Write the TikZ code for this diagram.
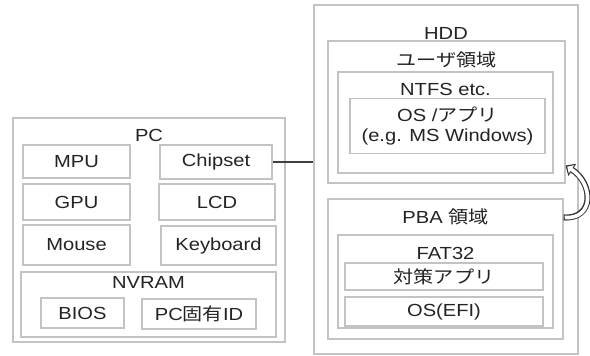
\documentclass[tikz,border=0pt]{standalone}
\usepackage{fontspec}
\setmainfont{Liberation Sans}[FakeStretch=1.15]
\newfontfamily\jp{Noto Sans CJK JP}[FakeStretch=1.15]
\usetikzlibrary{arrows.meta}
\definecolor{boxgray}{RGB}{195,195,195}
\definecolor{textgray}{RGB}{35,35,35}

\begin{document}
\begin{tikzpicture}[x=1pt,y=-1pt,font=\fontsize{17.5}{20}\selectfont,
  box node/.style={draw=boxgray,line width=1.1pt,inner sep=0pt,text=textgray},
  title node/.style={text=textgray,inner sep=0pt}]
  \useasboundingbox (0,0) rectangle (590,356);

  % PC and its parts
  \node[box node,minimum width=272pt,minimum height=224pt] (pc) at (149,230) {};
  \node[title node] (pc label) at (149,135) {PC};
  \node[box node,minimum width=107pt,minimum height=33pt] (mpu)      at (76.5,161.5) {MPU};
  \node[box node,minimum width=112pt,minimum height=34pt] (chipset)  at (216,162)    {Chipset};
  \node[box node,minimum width=107pt,minimum height=36pt] (gpu)      at (76.5,202)   {GPU};
  \node[box node,minimum width=116pt,minimum height=36pt] (lcd)      at (217,202)    {LCD};
  \node[box node,minimum width=107pt,minimum height=40pt] (mouse)    at (76.5,245)   {Mouse};
  \node[box node,minimum width=115pt,minimum height=39pt] (keyboard) at (218.5,245.5) {Keyboard};
  \node[box node,minimum width=255pt,minimum height=65pt] (nvram)    at (148.5,304.5) {};
  \node[title node] (nvram label) at (148.5,282) {NVRAM};
  \node[box node,minimum width=83pt,minimum height=30pt]  (bios)     at (82.5,313)   {BIOS};
  \node[box node,minimum width=114pt,minimum height=30pt] (pcid)     at (199,314)    {PC{\jp 固有}ID};

  % HDD with user area and PBA area
  \node[box node,minimum width=264pt,minimum height=349pt] (hdd)  at (446,179.5) {};
  \node[title node] (hdd label) at (446,33) {HDD};
  \node[box node,minimum width=237pt,minimum height=142pt] (user) at (446.5,112) {};
  \node[title node] (user label) at (446.5,60) {\jp ユーザ領域};
  \node[box node,minimum width=215pt,minimum height=101pt] (ntfs) at (445.5,122.5) {};
  \node[title node] (ntfs label) at (445.5,89) {NTFS etc.};
  \node[box node,minimum width=195pt,minimum height=55pt,align=center] (osapp) at (447.5,126)
    {OS /{\jp アプリ}\\(e.g. MS Windows)};

  \node[box node,minimum width=235pt,minimum height=140pt] (pba)   at (445.5,269) {};
  \node[title node] (pba label) at (445.5,217) {PBA {\jp 領域}};
  \node[box node,minimum width=215pt,minimum height=93pt]  (fat32) at (445.5,281.5) {};
  \node[title node] (fat32 label) at (445.5,253) {FAT32};
  \node[box node,minimum width=198pt,minimum height=27pt]  (tool)  at (444,276.5) {\jp 対策アプリ};
  \node[box node,minimum width=198pt,minimum height=29pt]  (efi)   at (444,311.5) {OS(EFI)};

  % link between PC and HDD
  \draw[black!75,line width=1.2pt] (chipset.east) -- (chipset.east -| hdd.west);

  % hollow curved arrow from PBA area up to user area
  \coordinate (swap tail) at ([yshift=-19pt]pba.north east);
  \coordinate (swap head) at ([yshift=18pt]user.south east);
  \draw[black!80,line width=6pt,-{Triangle[length=8pt,width=14pt]}]
    (swap tail) .. controls ([xshift=31pt,yshift=-2pt]swap tail) and ([xshift=28pt,yshift=-18pt]swap head) .. (swap head);
  \draw[white,line width=3.6pt,shorten <=1.2pt,shorten >=2pt,-{Triangle[length=5pt,width=9.5pt]}]
    (swap tail) .. controls ([xshift=31pt,yshift=-2pt]swap tail) and ([xshift=28pt,yshift=-18pt]swap head) .. (swap head);
\end{tikzpicture}
\end{document}
